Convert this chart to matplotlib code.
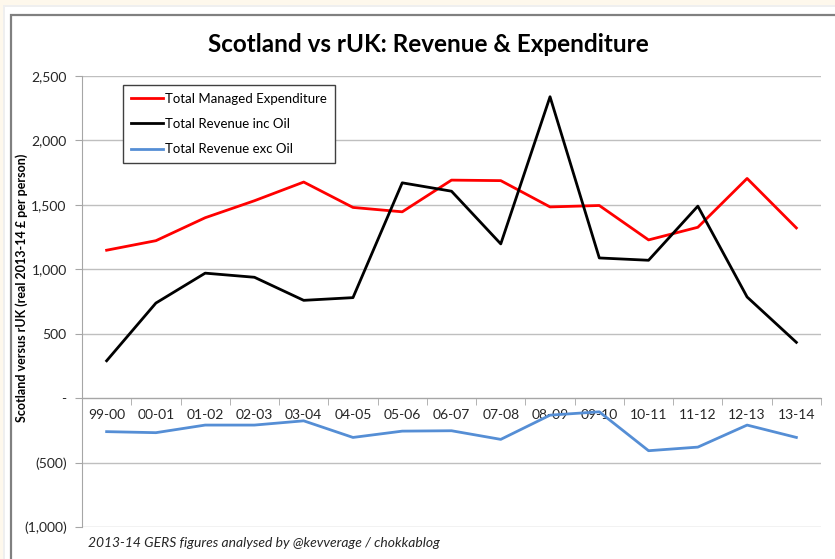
import matplotlib.pyplot as plt
import matplotlib.patches as patches
from matplotlib.ticker import FixedLocator, FuncFormatter

years = ['99-00', '00-01', '01-02', '02-03', '03-04', '04-05', '05-06', '06-07',
         '07-08', '08-09', '09-10', '10-11', '11-12', '12-13', '13-14']
tme = [1148, 1222, 1400, 1532, 1677, 1480, 1446, 1692, 1688, 1484, 1495, 1228, 1326, 1705, 1321]
rev_inc_oil = [290, 738, 970, 938, 759, 780, 1671, 1606, 1197, 2339, 1088, 1070, 1490, 785, 433]
rev_exc_oil = [-260, -268, -209, -209, -176, -305, -256, -253, -320, -132, -106, -408, -380, -209, -305]
yticks = [2500, 2000, 1500, 1000, 500, 0, -500, -1000]

W, H = 835, 559
plt.rcParams['font.family'] = ['Lato', 'DejaVu Sans']

fig = plt.figure(figsize=(W / 100, H / 100), dpi=100, facecolor='#fef8ec')

# chart frame
fig.patches.append(patches.Rectangle((3 / W, 0), 1, 1 - 5 / H, transform=fig.transFigure,
                                     facecolor='#efefef', edgecolor='none', zorder=-3))
fig.patches.append(patches.Rectangle((5 / W, 0), 1, 1 - 7 / H, transform=fig.transFigure,
                                     facecolor='white', edgecolor='none', zorder=-2))
fig.patches.append(patches.Rectangle((11 / W, -0.01), 1, 1 - 15 / H + 0.01, transform=fig.transFigure,
                                     facecolor='white', edgecolor='#808080', lw=1.6, zorder=-1))

ax = fig.add_axes([82 / W, (H - 527) / H, (821 - 82) / W, (527 - 76) / H])
ax.set_facecolor('none')
ax.set_zorder(2)

x = range(len(years))
ax.plot(x, tme, color='#ff0000', lw=2.0, label='Total Managed Expenditure', zorder=3)
ax.plot(x, rev_inc_oil, color='black', lw=2.0, label='Total Revenue inc Oil', zorder=3)
ax.plot(x, rev_exc_oil, color='#558ed5', lw=2.0, label='Total Revenue exc Oil', zorder=3)

ax.set_xlim(-0.5, len(years) - 0.5)
ax.set_ylim(-1000, 2500)

def fmt(v, pos):
    if v == 0:
        return '-'
    if v < 0:
        return '({:,.0f})'.format(-v)
    return '{:,.0f}'.format(v)

ax.yaxis.set_major_locator(FixedLocator(yticks))
ax.yaxis.set_major_formatter(FuncFormatter(fmt))
ax.grid(axis='y', color='#bfbfbf', lw=1.0, zorder=1)
ax.set_axisbelow(True)

for s in ['top', 'right']:
    ax.spines[s].set_visible(False)
ax.spines['left'].set_color('#a6a6a6')
ax.spines['bottom'].set_position(('data', 0))
ax.spines['bottom'].set_color('#a6a6a6')

ax.set_xticks(list(x))
ax.set_xticklabels(years)
ax.set_xticks([i - 0.5 for i in range(len(years) + 1)], minor=True)
ax.tick_params(axis='x', which='major', length=0, pad=8, labelsize=10, labelcolor='#262626')
ax.tick_params(axis='x', which='minor', length=5, color='#a6a6a6', direction='out')
ax.tick_params(axis='y', length=5, color='#a6a6a6', pad=6, labelsize=10, labelcolor='#262626')

ax.set_ylabel('Scotland versus rUK (real 2013-14 £ per person)', fontsize=9,
              fontweight='bold', color='black', va='center')
ax.yaxis.set_label_coords(-60 / (821 - 82), 0.53)

fig.text(428 / W, 1 - 45 / H, 'Scotland vs rUK: Revenue & Expenditure', ha='center', va='center',
         fontsize=17.5, fontweight='bold')
fig.text(88 / W, 1 - 543 / H, '2013-14 GERS figures analysed by @kevverage / chokkablog',
         ha='left', va='center', fontsize=10, style='italic', color='#262626')

leg = ax.legend(loc='upper left', bbox_to_anchor=(123 / W, 1 - 85 / H),
                bbox_transform=fig.transFigure, borderaxespad=0, fancybox=False,
                edgecolor='#404040', fontsize=9.5, handlelength=2.4, handletextpad=0.2,
                labelspacing=1.0, borderpad=0.6, framealpha=1)
leg.get_frame().set_linewidth(1.0)

fig.savefig('out.png', dpi=100, facecolor=fig.get_facecolor())
